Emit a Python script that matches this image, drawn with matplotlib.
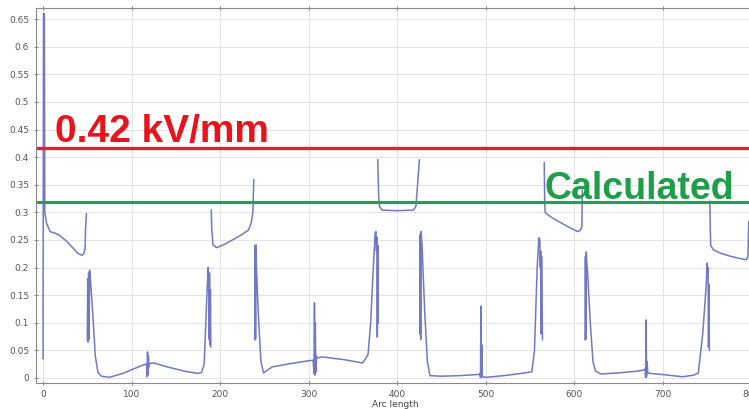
import numpy as np
import matplotlib.pyplot as plt
from matplotlib.ticker import FormatStrFormatter

# Campo ao longo do comprimento de arco
seg_a_x = [0, 0.5, 1.5, 2, 4, 8, 14, 19, 27, 34, 39, 44, 46, 47.5, 48, 49]
seg_a_y = [0.035, 0.66, 0.66, 0.30, 0.28, 0.265, 0.262, 0.258, 0.247, 0.235, 0.226, 0.222, 0.225, 0.235, 0.27, 0.297]

seg_b_x = [50, 50.5, 51, 51.5, 52, 52.5, 53, 56, 59, 62, 66, 75, 90, 105, 114, 117, 117.5, 118, 118.5, 119, 119.5,
           120, 125, 140, 160, 175, 179, 182, 185, 186.5, 187, 187.5, 188, 188.5, 189, 189.5]
seg_b_y = [0.07, 0.18, 0.065, 0.19, 0.07, 0.195, 0.19, 0.12, 0.04, 0.01, 0.003, 0.001, 0.008, 0.018, 0.024, 0.025,
           0.002, 0.047, 0.005, 0.04, 0.02, 0.026, 0.027, 0.02, 0.012, 0.008, 0.01, 0.025, 0.15, 0.2, 0.18, 0.07,
           0.19, 0.06, 0.16, 0.056]

seg_c_x = [190, 190.5, 192, 196, 205, 215, 225, 232, 235, 237, 238]
seg_c_y = [0.304, 0.27, 0.241, 0.236, 0.242, 0.251, 0.26, 0.268, 0.28, 0.3, 0.359]

seg_d_x = [239, 239.5, 240, 240.5, 241, 243, 246, 249, 259, 280, 300, 305, 306, 306.5, 307, 307.5, 308, 308.5,
           310, 315, 340, 361, 367, 370, 373, 375, 376, 376.5, 377, 377.5, 378, 378.5]
seg_d_y = [0.069, 0.24, 0.07, 0.241, 0.2, 0.12, 0.03, 0.009, 0.02, 0.026, 0.031, 0.032, 0.008, 0.136, 0.005, 0.1,
           0.01, 0.04, 0.036, 0.038, 0.033, 0.027, 0.042, 0.1, 0.2, 0.262, 0.265, 0.23, 0.255, 0.074, 0.24, 0.1]

seg_e_x = [378, 379, 380, 383, 400, 418, 421, 422, 425]
seg_e_y = [0.395, 0.33, 0.31, 0.304, 0.303, 0.304, 0.31, 0.33, 0.395]

seg_f_x = [425.5, 426, 426.5, 427, 427.5, 428, 431, 434, 437, 450, 470, 490, 493, 494, 494.5, 495, 495.5, 496,
           497, 500, 520, 540, 552, 555, 558, 560, 561, 561.5, 562, 562.5, 563, 564]
seg_f_y = [0.08, 0.26, 0.07, 0.265, 0.25, 0.24, 0.12, 0.03, 0.004, 0.003, 0.004, 0.006, 0.007, 0.001, 0.13, 0.0,
           0.06, 0.005, 0.002, 0.001, 0.004, 0.008, 0.011, 0.05, 0.2, 0.254, 0.25, 0.2, 0.23, 0.08, 0.22, 0.069]

seg_g_x = [566, 566.5, 567, 569, 575, 585, 595, 604, 607, 608.5, 609]
seg_g_y = [0.39, 0.32, 0.3, 0.297, 0.29, 0.281, 0.272, 0.265, 0.268, 0.275, 0.34]

seg_h_x = [612, 612.5, 613, 613.5, 614, 615, 618, 621, 624, 630, 650, 670, 678, 680, 680.5, 681, 681.5, 682, 683,
           686, 700, 722, 735, 740, 745, 749, 750, 750.5, 751, 751.5, 752, 752.5]
seg_h_y = [0.069, 0.22, 0.07, 0.228, 0.21, 0.19, 0.1, 0.03, 0.012, 0.007, 0.009, 0.012, 0.014, 0.016, 0.001, 0.105,
           0.002, 0.03, 0.009, 0.008, 0.006, 0.002, 0.005, 0.009, 0.08, 0.17, 0.208, 0.19, 0.2, 0.056, 0.17, 0.05]

seg_i_x = [753, 753.5, 754, 757, 765, 775, 785, 794, 796, 797]
seg_i_y = [0.32, 0.27, 0.24, 0.232, 0.226, 0.221, 0.217, 0.214, 0.219, 0.283]

segments = [(seg_a_x, seg_a_y), (seg_b_x, seg_b_y), (seg_c_x, seg_c_y), (seg_d_x, seg_d_y), (seg_e_x, seg_e_y),
            (seg_f_x, seg_f_y), (seg_g_x, seg_g_y), (seg_h_x, seg_h_y), (seg_i_x, seg_i_y)]

limite = 0.417      # 0.42 kV/mm
calculado = 0.318

x_ticks = np.arange(0, 801, 100)
y_ticks = np.arange(0, 0.651, 0.05)

fig = plt.figure(figsize=(7.49, 4.09), dpi=100)
ax = fig.add_axes([0.048, 0.064, 0.96, 0.916])

for sx, sy in segments:
    ax.plot(sx, sy, color='#7378c4', linewidth=1.1)

ax.axhline(limite, color='#e3222b', linewidth=2.4)
ax.axhline(calculado, color='#22a04e', linewidth=2.2)

ax.text(14, 0.4275, '0.42 kV/mm', color='#e8141c', fontsize=28, fontweight='bold',
        family='Liberation Sans', va='baseline')
ax.text(566, 0.3235, 'Calculated', color='#1f9e4a', fontsize=27, fontweight='bold',
        family='Liberation Sans', va='baseline')

ax.set_xlim(-8, 804)
ax.set_ylim(-0.009, 0.670)
ax.set_xticks(x_ticks)
ax.set_yticks(y_ticks)
ax.yaxis.set_major_formatter(FormatStrFormatter('%g'))
ax.set_yticklabels(['%g' % round(v, 2) for v in y_ticks])
ax.tick_params(labelsize=6.5, labelcolor='#555555', color='#777777', direction='inout', length=3,
               width=0.6, top=True)
ax.set_xlabel('Arc length', fontsize=6.5, color='#444444', labelpad=1)
ax.grid(color='#e4e4e4', linewidth=0.7)
for side in ['left', 'bottom', 'top']:
    ax.spines[side].set_color('#8a8a8a')
    ax.spines[side].set_linewidth(0.8)
ax.spines['right'].set_visible(False)

fig.savefig('out.png', dpi=100)
